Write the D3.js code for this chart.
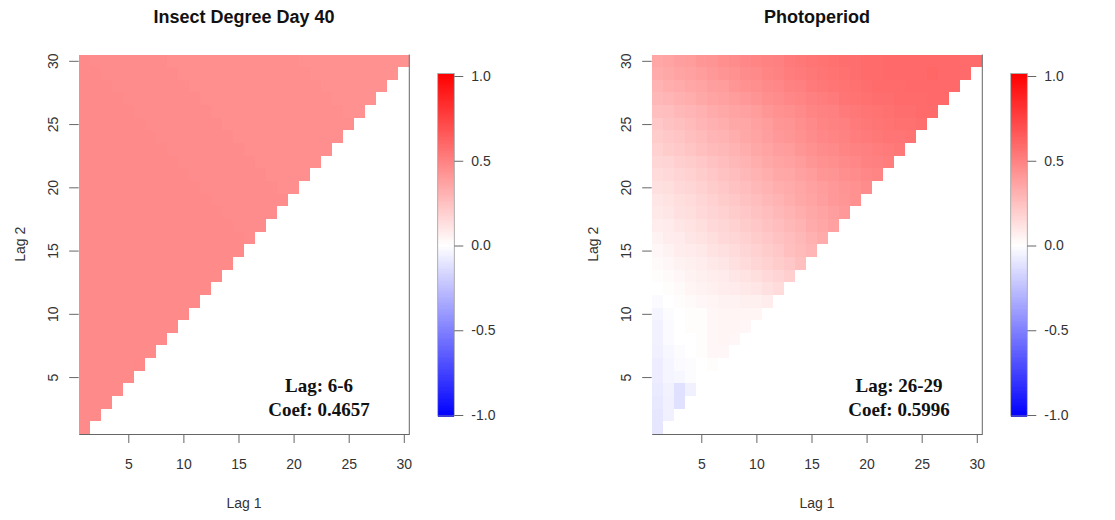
<!DOCTYPE html>
<html>
<head>
<meta charset="utf-8">
<script src="https://cdn.jsdelivr.net/npm/d3@7"></script>
<style>
  body { margin: 0; background: #fff; }
  svg { display: block; }
  text { font-family: "Liberation Sans", Arial, sans-serif; }
</style>
</head>
<body>
<svg id="chart" width="1115" height="520"></svg>
<script>
// Tick positions and labels
const lagTicks = [5, 10, 15, 20, 25, 30];
const legendTicks = [-1, -0.5, 0, 0.5, 1];

// Panel titles and best-window annotations
const panelTitles = ["Insect Degree Day 40", "Photoperiod"];
const bestLags = ["6-6", "26-29"];
const bestCoefs = [0.4657, 0.5996];

// Correlation coefficients; row k holds Lag 2 = k+1, entries are Lag 1 = 1..Lag 2
const degreeDay40 = [
  [.46],
  [.46,.46],
  [.46,.46,.46],
  [.46,.46,.46,.46],
  [.46,.46,.46,.46,.46],
  [.46,.46,.46,.46,.46,.4657],
  [.46,.46,.46,.46,.46,.46,.46],
  [.46,.46,.46,.46,.46,.46,.46,.46],
  [.46,.46,.46,.46,.46,.46,.46,.46,.46],
  [.46,.46,.46,.46,.46,.46,.46,.46,.46,.46],
  [.46,.46,.46,.46,.46,.46,.46,.46,.46,.46,.46],
  [.46,.46,.46,.46,.46,.46,.46,.46,.46,.46,.46,.46],
  [.46,.46,.46,.46,.46,.46,.46,.46,.46,.46,.46,.46,.46],
  [.46,.46,.46,.46,.46,.46,.46,.46,.46,.46,.46,.46,.46,.46],
  [.46,.46,.46,.46,.46,.46,.46,.46,.46,.46,.46,.46,.46,.46,.46],
  [.46,.46,.46,.46,.46,.46,.46,.46,.46,.46,.46,.46,.46,.46,.46,.45],
  [.46,.46,.46,.46,.46,.46,.46,.46,.46,.46,.46,.46,.46,.46,.45,.45,.45],
  [.46,.46,.46,.46,.46,.46,.46,.46,.46,.46,.46,.46,.46,.45,.45,.45,.45,.45],
  [.46,.46,.46,.46,.46,.46,.46,.46,.46,.46,.46,.46,.45,.45,.45,.45,.45,.45,.45],
  [.46,.46,.46,.46,.46,.46,.46,.46,.46,.46,.46,.45,.45,.45,.45,.45,.45,.45,.44,.44],
  [.46,.46,.46,.46,.46,.46,.46,.46,.46,.46,.45,.45,.45,.45,.45,.45,.45,.44,.44,.44,.44],
  [.46,.46,.46,.46,.46,.46,.46,.46,.46,.45,.45,.45,.45,.45,.45,.45,.44,.44,.44,.44,.44,.44],
  [.46,.46,.46,.46,.46,.46,.46,.46,.45,.45,.45,.45,.45,.45,.45,.44,.44,.44,.44,.44,.44,.44,.44],
  [.46,.46,.46,.46,.46,.46,.46,.45,.45,.45,.45,.45,.45,.45,.44,.44,.44,.44,.44,.44,.44,.44,.44,.44],
  [.46,.46,.46,.46,.46,.46,.45,.45,.45,.45,.45,.45,.45,.44,.44,.44,.44,.44,.44,.44,.44,.44,.44,.44,.44],
  [.46,.46,.46,.46,.46,.45,.45,.45,.45,.45,.45,.45,.44,.44,.44,.44,.44,.44,.44,.44,.44,.44,.44,.44,.43,.43],
  [.46,.46,.46,.46,.45,.45,.45,.45,.45,.45,.45,.44,.44,.44,.44,.44,.44,.44,.44,.44,.44,.44,.44,.43,.43,.43,.43],
  [.46,.46,.46,.45,.45,.45,.45,.45,.45,.45,.44,.44,.44,.44,.44,.44,.44,.44,.44,.44,.44,.44,.43,.43,.43,.43,.43,.43],
  [.46,.46,.45,.45,.45,.45,.45,.45,.45,.44,.44,.44,.44,.44,.44,.44,.44,.44,.44,.44,.44,.43,.43,.43,.43,.43,.43,.43,.43],
  [.46,.45,.45,.45,.45,.45,.45,.45,.44,.44,.44,.44,.44,.44,.44,.44,.44,.44,.44,.44,.43,.43,.43,.43,.43,.43,.43,.43,.43,.43]
];

const photoperiod = [
  [-.10],
  [-.10,-.06],
  [-.09,-.06,-.12],
  [-.08,-.05,-.12,-.06],
  [-.07,-.04,-.03,-.01,.00],
  [-.07,-.04,-.02,-.01,.00,.01],
  [-.06,-.03,-.01,.00,.01,.03,.03],
  [-.05,-.02,.00,.00,.01,.03,.04,.03],
  [-.05,-.02,.00,.01,.01,.03,.04,.04,.03],
  [-.04,-.01,.00,.01,.01,.03,.04,.04,.04,.04],
  [-.02,.00,.01,.02,.03,.04,.05,.05,.06,.06,.07],
  [.00,.01,.02,.04,.05,.06,.07,.08,.09,.10,.12,.14],
  [.01,.02,.03,.05,.06,.07,.08,.10,.11,.13,.15,.17,.19],
  [.02,.03,.05,.06,.07,.09,.10,.12,.14,.16,.18,.20,.22,.25],
  [.03,.05,.07,.08,.09,.11,.12,.14,.16,.18,.20,.22,.25,.27,.29],
  [.05,.07,.08,.10,.11,.13,.15,.16,.18,.20,.22,.24,.26,.28,.31,.33],
  [.07,.08,.10,.11,.13,.15,.16,.18,.20,.22,.24,.26,.28,.30,.33,.35,.37],
  [.09,.10,.12,.13,.15,.17,.18,.20,.22,.24,.26,.28,.30,.32,.34,.36,.38,.40],
  [.10,.11,.13,.14,.16,.18,.20,.22,.24,.26,.28,.30,.32,.34,.36,.38,.40,.41,.43],
  [.12,.13,.15,.16,.18,.20,.22,.24,.26,.28,.30,.32,.33,.35,.37,.39,.40,.42,.43,.45],
  [.14,.15,.17,.18,.20,.22,.24,.26,.28,.30,.32,.34,.35,.37,.39,.41,.42,.44,.45,.47,.48],
  [.16,.17,.19,.20,.22,.24,.26,.28,.30,.32,.34,.36,.37,.39,.41,.43,.44,.46,.47,.49,.50,.51],
  [.18,.20,.21,.23,.25,.27,.28,.30,.32,.34,.36,.38,.39,.41,.43,.45,.46,.48,.49,.50,.51,.52,.53],
  [.20,.22,.23,.25,.27,.29,.30,.32,.34,.36,.38,.40,.41,.43,.45,.47,.48,.49,.51,.52,.53,.54,.54,.55],
  [.22,.24,.25,.27,.29,.31,.32,.34,.35,.37,.39,.41,.42,.44,.46,.48,.49,.50,.52,.53,.54,.55,.56,.56,.57],
  [.25,.26,.28,.29,.31,.33,.34,.36,.37,.39,.41,.43,.44,.46,.48,.49,.50,.52,.53,.54,.55,.56,.57,.57,.58,.58],
  [.28,.29,.31,.32,.34,.36,.37,.39,.40,.42,.44,.45,.47,.48,.50,.51,.52,.54,.55,.56,.57,.57,.58,.58,.58,.59,.59],
  [.30,.32,.33,.35,.36,.38,.39,.41,.43,.44,.46,.47,.49,.50,.52,.53,.54,.55,.56,.57,.58,.58,.58,.59,.59,.59,.59,.59],
  [.33,.34,.36,.37,.39,.40,.42,.43,.45,.46,.48,.49,.51,.52,.53,.54,.55,.56,.57,.58,.58,.59,.59,.59,.59,.5996,.59,.59,.58],
  [.35,.36,.38,.39,.41,.42,.44,.45,.47,.48,.49,.50,.52,.53,.54,.55,.56,.57,.57,.58,.58,.59,.59,.59,.59,.59,.59,.59,.58,.58]
];

const panels = [
  { title: panelTitles[0], rows: degreeDay40, lag: bestLags[0], coef: bestCoefs[0], dx: 0, noteX: 319 },
  { title: panelTitles[1], rows: photoperiod, lag: bestLags[1], coef: bestCoefs[1], dx: 573, noteX: 326 }
];

// Blue - white - red ramp over [-1, 1]
const color = d3.scaleLinear().domain([-1, 0, 1]).range(["#0000ff", "#ffffff", "#ff0000"]);

const plot = { left: 78.7, right: 409.3, top: 54.5, bottom: 434 };
const bar = { left: 437.7, width: 16.6, top: 73.5, bottom: 416, v1: 76, vm1: 415 };
const lineColor = "#666";
const tickTextColor = "#333";

const svg = d3.select("#chart");

panels.forEach(p => {
  const g = svg.append("g").attr("transform", `translate(${p.dx},0)`);
  const x = d3.scaleLinear().domain([0.5, 30.5]).range([plot.left, plot.right]);
  const y = d3.scaleLinear().domain([0.5, 30.5]).range([plot.bottom, plot.top]);

  // heatmap cells
  const cells = p.rows.flatMap((row, r) => row.map((v, c) => ({ lag1: c + 1, lag2: r + 1, v })));
  g.append("g")
    .attr("shape-rendering", "crispEdges")
    .selectAll("rect")
    .data(cells)
    .join("rect")
    .attr("x", d => x(d.lag1 - 0.5))
    .attr("y", d => y(d.lag2 + 0.5))
    .attr("width", d => x(d.lag1 + 0.5) - x(d.lag1 - 0.5))
    .attr("height", d => y(d.lag2 - 0.5) - y(d.lag2 + 0.5))
    .attr("fill", d => color(d.v));

  // x axis (its domain line is the bottom frame)
  const xAxis = g.append("g")
    .attr("transform", `translate(0,${plot.bottom})`)
    .call(d3.axisBottom(x).tickValues(lagTicks).tickSize(9).tickSizeOuter(0).tickPadding(16));
  xAxis.select(".domain").attr("stroke", lineColor);
  xAxis.selectAll(".tick line").attr("stroke", lineColor);
  xAxis.selectAll(".tick text")
    .attr("fill", tickTextColor)
    .style("font-size", "14px")
    .style("font-family", "\"Liberation Sans\", Arial, sans-serif");

  // right frame line
  g.append("line")
    .attr("x1", plot.right).attr("x2", plot.right)
    .attr("y1", plot.top).attr("y2", plot.bottom)
    .attr("stroke", lineColor);

  // y axis with vertical labels
  const yAxis = g.append("g")
    .attr("transform", `translate(${plot.left},0)`)
    .call(d3.axisLeft(y).tickValues(lagTicks).tickSize(9.5).tickSizeOuter(0));
  yAxis.select(".domain").remove();
  yAxis.selectAll(".tick line").attr("stroke", lineColor);
  yAxis.selectAll(".tick text")
    .attr("x", null).attr("dy", null)
    .attr("text-anchor", "middle")
    .attr("transform", "translate(-21,0) rotate(-90)")
    .attr("fill", tickTextColor)
    .style("font-size", "14px")
    .style("font-family", "\"Liberation Sans\", Arial, sans-serif");

  // titles and axis labels
  g.append("text")
    .attr("x", (plot.left + plot.right) / 2).attr("y", 23)
    .attr("text-anchor", "middle")
    .style("font-size", "18px").style("font-weight", "bold")
    .attr("fill", "#111")
    .text(p.title);
  g.append("text")
    .attr("x", (plot.left + plot.right) / 2).attr("y", 508)
    .attr("text-anchor", "middle")
    .style("font-size", "14px")
    .attr("fill", tickTextColor)
    .text("Lag 1");
  g.append("text")
    .attr("transform", `translate(25,${(plot.top + plot.bottom) / 2}) rotate(-90)`)
    .attr("text-anchor", "middle")
    .style("font-size", "14px")
    .attr("fill", tickTextColor)
    .text("Lag 2");

  // best-window annotation
  const note = g.append("g")
    .attr("text-anchor", "middle")
    .style("font-family", "\"Liberation Serif\", \"Times New Roman\", serif")
    .style("font-size", "19px")
    .style("font-weight", "bold")
    .attr("fill", "#111");
  note.append("text").attr("x", p.noteX).attr("y", 392)
    .style("font-family", "\"Liberation Serif\", \"Times New Roman\", serif")
    .text(`Lag: ${p.lag}`);
  note.append("text").attr("x", p.noteX).attr("y", 416)
    .style("font-family", "\"Liberation Serif\", \"Times New Roman\", serif")
    .text(`Coef: ${p.coef.toFixed(4)}`);

  // colour key
  const cy = d3.scaleLinear().domain([-1, 1]).range([bar.vm1, bar.v1]);
  const ky = d3.scaleLinear().domain([-1, 1]).range([bar.bottom, bar.top]);
  const steps = d3.range(-1, 1, 0.01);
  g.append("g")
    .attr("shape-rendering", "crispEdges")
    .selectAll("rect")
    .data(steps)
    .join("rect")
    .attr("x", bar.left)
    .attr("width", bar.width)
    .attr("y", d => ky(d + 0.01))
    .attr("height", d => ky(d) - ky(d + 0.01) + 0.5)
    .attr("fill", d => color(d + 0.005));
  g.append("rect")
    .attr("x", bar.left).attr("y", bar.top)
    .attr("width", bar.width).attr("height", bar.bottom - bar.top)
    .attr("fill", "none").attr("stroke", "#999").attr("stroke-width", 0.8);

  const kAxis = g.append("g")
    .attr("transform", `translate(${bar.left + bar.width},0)`)
    .call(d3.axisRight(cy).tickValues(legendTicks).tickSize(9).tickSizeOuter(0).tickPadding(8)
      .tickFormat(d => d.toFixed(1)));
  kAxis.select(".domain").remove();
  kAxis.selectAll(".tick line").attr("stroke", lineColor);
  kAxis.selectAll(".tick text")
    .attr("fill", tickTextColor)
    .style("font-size", "14px")
    .style("font-family", "\"Liberation Sans\", Arial, sans-serif");
});
</script>
</body>
</html>
